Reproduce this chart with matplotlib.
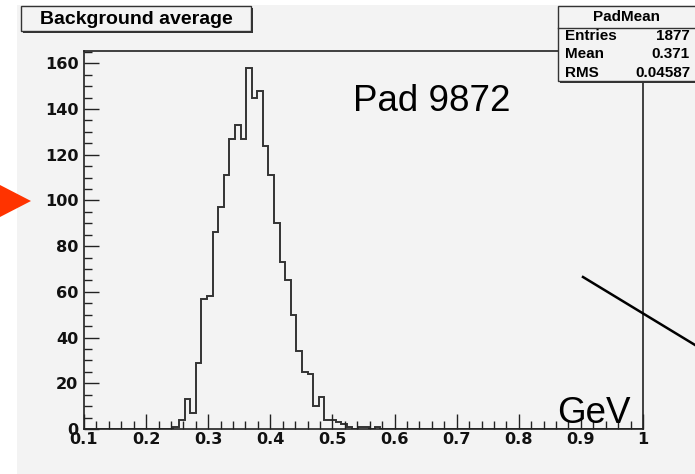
import numpy as np
import matplotlib
matplotlib.use("Agg")
import matplotlib.pyplot as plt
from matplotlib.patches import Rectangle, Polygon
from matplotlib.lines import Line2D

# histogram: 100 bins from 0.1 to 1.0, counts
x_min = 0.1
x_max = 1.0
n_bins = 100
first_bin = 16
counts = [1, 4, 13, 7, 29, 57, 58, 86, 97, 111, 127, 133, 127, 158, 145,
          148, 124, 111, 90, 73, 65, 50, 34, 25, 24, 10, 14, 4, 4, 3, 2,
          1, 0, 1, 1, 0, 1]

title = "Background average"
stats_name = "PadMean"
stats_rows = [("Entries", "1877"), ("Mean", "0.371"), ("RMS", "0.04587")]
x_ticks = [0.1, 0.2, 0.3, 0.4, 0.5, 0.6, 0.7, 0.8, 0.9, 1.0]
x_tick_labels = ["0.1", "0.2", "0.3", "0.4", "0.5", "0.6", "0.7", "0.8", "0.9", "1"]
y_ticks = [0, 20, 40, 60, 80, 100, 120, 140, 160]

W, H = 695, 474
bg = "#f3f3f3"


def px(x, y):
    # pixel position (from top left) -> figure fraction
    return x / W, 1 - y / H


values = np.zeros(n_bins)
values[first_bin:first_bin + len(counts)] = counts
edges = np.linspace(x_min, x_max, n_bins + 1)

fig = plt.figure(figsize=(W / 100, H / 100), dpi=100, facecolor=bg)

# white margins at left and top of the screenshot
fig.add_artist(Rectangle(px(0, H), 17 / W, 1, transform=fig.transFigure,
                         facecolor="white", edgecolor="none", zorder=-5))
fig.add_artist(Rectangle(px(0, 5), 1, 5 / H, transform=fig.transFigure,
                         facecolor="white", edgecolor="none", zorder=-5))

l, b = px(84, 429)
r, t = px(643, 51)
ax = fig.add_axes([l, b, r - l, t - b])
ax.set_facecolor(bg)

ax.stairs(values, edges, color="#333333", linewidth=1.4)

ax.set_xlim(x_min, x_max)
ax.set_ylim(0, 165.4)
ax.set_xticks(x_ticks)
ax.set_xticklabels(x_tick_labels)
ax.set_yticks(y_ticks)
ax.set_xticks(np.arange(0.1, 1.001, 0.02), minor=True)
ax.set_yticks(np.arange(0, 166, 5), minor=True)

ax.tick_params(which="both", direction="in", top=False, right=False,
               width=1.0, color="#222222")
ax.tick_params(which="major", length=11)
ax.tick_params(which="minor", length=5.5)
ax.tick_params(axis="y", pad=4)
ax.tick_params(axis="x", pad=2)
for lab in ax.get_xticklabels() + ax.get_yticklabels():
    lab.set_fontfamily("DejaVu Sans")
    lab.set_fontweight("bold")
    lab.set_fontsize(11.6)
    lab.set_color("#111111")
for sp in ax.spines.values():
    sp.set_linewidth(1.2)
    sp.set_color("#222222")

# big annotation texts
fig.text(*px(353, 111), "Pad 9872", fontfamily="Liberation Sans",
         fontsize=26.5, va="baseline", ha="left")
fig.text(*px(557, 423), "GeV", fontfamily="Liberation Sans",
         fontsize=26.5, va="baseline", ha="left")


def pave(x0, y0, x1, y1):
    # ROOT style box with shadow
    fig.add_artist(Rectangle(px(x0 + 2, y1 + 2), (x1 - x0) / W, (y1 - y0) / H,
                             transform=fig.transFigure, facecolor="#333333",
                             edgecolor="none", zorder=5))
    fig.add_artist(Rectangle(px(x0, y1), (x1 - x0) / W, (y1 - y0) / H,
                             transform=fig.transFigure, facecolor=bg,
                             edgecolor="#333333", linewidth=1.0, zorder=6))


# title box
pave(21, 6, 251, 31)
fig.text(*px(136, 19), title, fontfamily="Liberation Sans", fontweight="bold",
         fontsize=14, ha="center", va="center", zorder=7)

# stats box
pave(558, 6, 700, 81)
fig.add_artist(Line2D([558 / W, 1], [1 - 28 / H] * 2, transform=fig.transFigure,
                      color="#333333", linewidth=1.0, zorder=7))
fig.text(*px(626, 17), stats_name, fontfamily="Liberation Sans", fontweight="bold",
         fontsize=11, ha="center", va="center", zorder=7)
for i, (name, val) in enumerate(stats_rows):
    y = 36 + i * 18.5
    fig.text(*px(565, y), name, fontfamily="Liberation Sans", fontweight="bold",
             fontsize=11, ha="left", va="center", zorder=7)
    fig.text(*px(690, y), val, fontfamily="Liberation Sans", fontweight="bold",
             fontsize=11, ha="right", va="center", zorder=7)

# orange arrow head on the left
fig.add_artist(Polygon([px(0, 185), px(31, 201), px(0, 217)], closed=True,
                       transform=fig.transFigure, facecolor="#ff3300",
                       edgecolor="none", zorder=8))

# black pointer line on the right
x0, y0 = px(583, 277)
x1, y1 = px(700, 348)
fig.add_artist(Line2D([x0, x1], [y0, y1], transform=fig.transFigure,
                      color="black", linewidth=1.8, zorder=8))

fig.savefig("out.png", dpi=100, facecolor=bg)
